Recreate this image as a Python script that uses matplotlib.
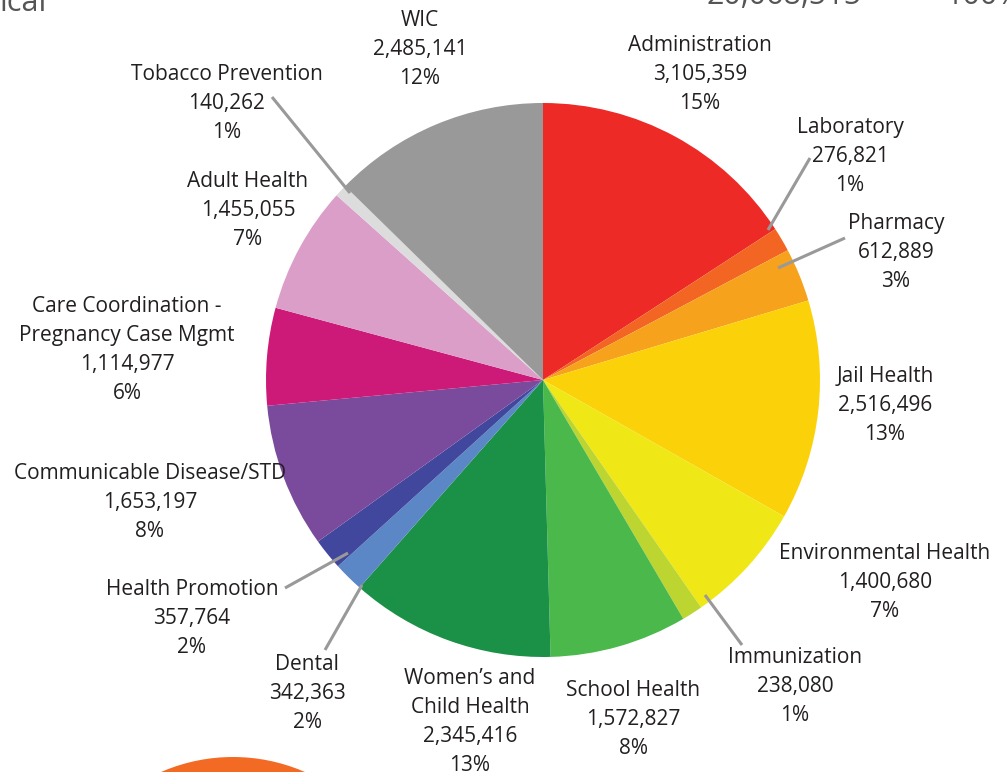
import matplotlib.pyplot as plt
from matplotlib.patches import Circle

programas = ['Administration', 'Laboratory', 'Pharmacy', 'Jail Health',
             'Environmental Health', 'Immunization', 'School Health',
             "Women’s and\nChild Health", 'Dental', 'Health Promotion',
             'Communicable Disease/STD',
             'Care Coordination -\nPregnancy Case Mgmt', 'Adult Health',
             'Tobacco Prevention', 'WIC']
montos = [3105359, 276821, 612889, 2516496, 1400680, 238080, 1572827,
          2345416, 342363, 357764, 1653197, 1114977, 1455055, 140262, 2485141]
porcentajes = ['15%', '1%', '3%', '13%', '7%', '1%', '8%', '13%', '2%', '2%',
               '8%', '6%', '7%', '1%', '12%']
colores = ['#EE2A27', '#F26522', '#F7A21D', '#FBD20A', '#F0E716', '#BCD531',
           '#4AB84A', '#1A9146', '#5B87C6', '#40479C', '#7A4A9C', '#CD1A78',
           '#DB9EC8', '#DCDCDC', '#999999']
total_texto = '20,068,515'

W, H = 1008, 772

# posiciones de las etiquetas (px, centro de la primera linea)
pos_etiquetas = [(700, 45), (850, 127), (896, 223), (885, 376), (885, 553),
                 (795, 657), (633, 690), (470, 678), (307, 664), (192, 589),
                 (150, 473), (127, 306), (248, 181), (227, 74), (420, 20)]
# lineas guia (px)
guias = {1: ((810, 158), (768, 230)), 2: ((845, 238), (778, 268)),
         5: ((742, 645), (705, 595)), 9: ((285, 588), (348, 553)),
         8: ((325, 650), (362, 585)), 13: ((272, 97), (350, 193))}

fig = plt.figure(figsize=(W / 100, H / 100), dpi=100)
ax = fig.add_axes([0, 0, 1, 1])

fuente = ['Open Sans', 'DejaVu Sans']

ax.pie(montos, colors=colores, startangle=90, counterclock=False,
       center=(543, H - 380), radius=277, wedgeprops=dict(linewidth=0))
ax.set_xlim(0, W)
ax.set_ylim(0, H)
ax.set_aspect('equal')
ax.axis('off')

for i, (x, y) in enumerate(pos_etiquetas):
    txt = f'{programas[i]}\n{montos[i]:,}\n{porcentajes[i]}'
    ax.text(x, H - y + 10, txt, ha='center', va='top', fontsize=15,
            family=fuente, color='#231F20', linespacing=1.5)

for i, (p1, p2) in guias.items():
    ax.plot([p1[0], p2[0]], [H - p1[1], H - p2[1]], color='#999999', lw=2.2,
            solid_capstyle='butt')

# restos del infografico recortado
ax.text(0, H - 11, 'ical', fontsize=22, family=fuente, color='#555555',
        ha='left', va='baseline')
ax.text(706, H - 4, total_texto, fontsize=22, family=fuente, color='#555555',
        ha='left', va='baseline')
ax.text(945, H - 4, '100%', fontsize=22, family=fuente, color='#555555',
        ha='left', va='baseline')
ax.add_patch(Circle((233, H - 937), 180, color='#F26A24', lw=0))

fig.savefig('out.png', dpi=100)
